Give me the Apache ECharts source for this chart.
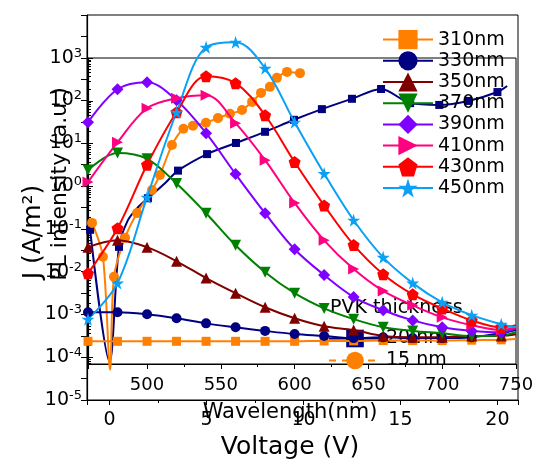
<!DOCTYPE html>
<html><head><meta charset="utf-8">
<script src="https://cdn.jsdelivr.net/npm/echarts@6/dist/echarts.min.js"></script>
<style>html,body{margin:0;padding:0;background:#fff}#c{width:537px;height:466px}</style>
</head><body><div id="c"></div>
<script>
// ---------- Chart A : J-V (PVK thickness) ----------
const voltage20 = [-1.0, 0.0, 0.49, 0.95, 1.47, 1.98, 2.86, 3.53, 5.03, 6.52, 8.02, 9.51, 10.95, 12.5, 14.0, 15.5, 17.0, 18.5, 20.0, 20.5];
const current20 = [0.095, 7.9e-5, 0.038, 0.16, 0.32, 0.52, 1.17, 2.3, 5.6, 10.2, 18.6, 35.5, 63, 110, 186, 87, 79, 98, 158, 219];
const voltage15 = [-0.9, -0.34, 0.03, 0.23, 0.8, 1.42, 2.19, 2.6, 3.22, 3.81, 4.3, 4.97, 5.59, 6.21, 6.83, 7.35, 7.81, 8.27, 8.63, 9.15, 9.82];
const current15 = [0.138, 0.0224, 5.1e-5, 0.0076, 0.062, 0.234, 0.81, 1.82, 9.1, 21.9, 25.7, 30.2, 38.9, 49, 60, 93, 151, 209, 339, 468, 437];
const thicknessNames = ['20 nm', '15 nm'];

// ---------- Chart B : PL spectra ----------
const wavelengths = [460, 480, 500, 520, 540, 560, 580, 600, 620, 640, 660, 680, 700, 720, 740, 750];
const excitationNames = ['310nm', '330nm', '350nm', '370nm', '390nm', '410nm', '430nm', '450nm'];
const pl310 = [2.4e-4, 2.4e-4, 2.4e-4, 2.4e-4, 2.4e-4, 2.4e-4, 2.4e-4, 2.4e-4, 2.45e-4, 2.45e-4, 2.5e-4, 2.5e-4, 2.5e-4, 2.55e-4, 2.6e-4, 2.7e-4];
const pl330 = [1.15e-3, 1.15e-3, 1.03e-3, 8.3e-4, 6.3e-4, 5.1e-4, 4.2e-4, 3.55e-4, 3.2e-4, 2.85e-4, 3.0e-4, 2.85e-4, 2.85e-4, 3.0e-4, 3.7e-4, 4.4e-4];
const pl350 = [0.038, 0.055, 0.038, 0.0178, 0.0072, 0.0032, 0.0015, 8.3e-4, 5.4e-4, 4.4e-4, 3.2e-4, 3.0e-4, 3.0e-4, 3.2e-4, 3.2e-4, 3.5e-4];
const pl370 = [2.4, 6.0, 4.4, 1.17, 0.236, 0.042, 0.0099, 0.0032, 0.00141, 7.9e-4, 5.1e-4, 4.2e-4, 3.7e-4, 3.2e-4, 3.3e-4, 3.9e-4];
const pl390 = [31.6, 186, 271, 103, 17.5, 1.94, 0.236, 0.034, 0.0085, 0.0026, 0.00128, 7.4e-4, 5.1e-4, 4.2e-4, 3.9e-4, 4.9e-4];
const pl410 = [1.26, 10.7, 67, 115, 135, 30, 4.1, 0.41, 0.055, 0.0117, 0.0036, 0.00166, 8.7e-4, 5.7e-4, 4.4e-4, 5.1e-4];
const pl430 = [0.0093, 0.105, 3.2, 54, 375, 258, 46, 3.7, 0.36, 0.043, 0.0089, 0.0030, 0.00141, 7.4e-4, 5.1e-4, 5.7e-4];
const pl450 = [7.9e-4, 0.0055, 0.56, 54, 1780, 2340, 575, 31.6, 2.0, 0.162, 0.022, 0.0055, 0.00195, 9.8e-4, 6.0e-4, 5.1e-4];

const FONT = 'DejaVu Sans';
const STAR = 'path://M50,0 L61,35 L98,35 L68,57 L79,91 L50,70 L21,91 L32,57 L2,35 L39,35 Z';
const PENTA = 'path://M50,0 L98,36 L80,95 L20,95 L2,36 Z';

function pairs(xs, ys, noMarker) {
  return xs.map((x, i) => noMarker.indexOf(i) >= 0 ? {value: [x, ys[i]], symbol: 'none'} : [x, ys[i]]);
}

const plSets = [pl310, pl330, pl350, pl370, pl390, pl410, pl430, pl450];
const plStyle = [
  {c: '#FF8000', s: 'rect', size: 9, r: 0},
  {c: '#000080', s: 'circle', size: 10, r: 0},
  {c: '#800000', s: 'triangle', size: 11, r: 0},
  {c: '#008000', s: 'triangle', size: 11, r: 180},
  {c: '#8000FF', s: 'diamond', size: 12, r: 0},
  {c: '#FF0080', s: 'triangle', size: 11, r: -90},
  {c: '#FF0000', s: PENTA, size: 12, r: 0},
  {c: '#0AA0F5', s: STAR, size: 13, r: 0}
];
const lastIdx = wavelengths.length - 1;

const series = [];
series.push({
  name: thicknessNames[0], type: 'line', xAxisIndex: 0, yAxisIndex: 0, z: 2,
  data: pairs(voltage20, current20, [1, 3, 4, 6, voltage20.length - 1]),
  smooth: 0.3, symbol: 'rect', symbolSize: 8, showAllSymbol: true,
  lineStyle: {color: '#000080', width: 2}, itemStyle: {color: '#000080'}
});
series.push({
  name: thicknessNames[1], type: 'line', xAxisIndex: 0, yAxisIndex: 0, z: 2,
  data: pairs(voltage15, current15, [2]),
  smooth: 0.3, symbol: 'circle', symbolSize: 10, showAllSymbol: true,
  lineStyle: {color: '#FF8000', width: 2}, itemStyle: {color: '#FF8000'}
});
plSets.forEach((vals, k) => {
  const st = plStyle[k];
  series.push({
    name: excitationNames[k], type: 'line', xAxisIndex: 1, yAxisIndex: 1, z: 3,
    data: pairs(wavelengths, vals, [lastIdx]),
    smooth: 0.35, symbol: st.s, symbolSize: st.size, symbolRotate: st.r, showAllSymbol: true,
    clip: false,
    lineStyle: {color: st.c, width: 2}, itemStyle: {color: st.c}
  });
});

const axisCol = '#000';
const option = {
  animation: false,
  backgroundColor: '#fff',
  textStyle: {fontFamily: FONT},
  grid: [
    {left: 87, top: 15, right: 19, bottom: 66, show: true, borderColor: '#000', borderWidth: 1, backgroundColor: 'transparent'},
    {left: 88, top: 58, right: 21, bottom: 102, show: true, borderColor: '#000', borderWidth: 1, backgroundColor: 'transparent'}
  ],
  xAxis: [
    {type: 'value', gridIndex: 0, position: 'bottom', min: -1.16, max: 21.06, splitNumber: 5,
     axisLine: {onZero: false, lineStyle: {color: axisCol, width: 1.2}},
     axisTick: {inside: false, length: 5, lineStyle: {color: axisCol}},
     minorTick: {show: true, splitNumber: 2, length: 3, lineStyle: {color: axisCol}},
     splitLine: {show: false},
     axisLabel: {color: '#000', fontSize: 19, fontFamily: FONT, margin: 11,
       formatter: v => (Math.abs(v / 5 - Math.round(v / 5)) < 1e-6 ? String(Math.round(v)) : '')}},
    {type: 'value', gridIndex: 1, position: 'bottom', min: 460, max: 750, splitNumber: 5,
     axisLine: {onZero: false, lineStyle: {color: axisCol, width: 1.2}},
     axisTick: {inside: false, length: 5, lineStyle: {color: axisCol}},
     minorTick: {show: true, splitNumber: 2, length: 3, lineStyle: {color: axisCol}},
     splitLine: {show: false},
     axisLabel: {color: '#000', fontSize: 18, fontFamily: FONT, margin: 12,
       formatter: v => (v % 50 === 0 ? String(v) : '')}}
  ],
  yAxis: [
    {type: 'log', gridIndex: 0, position: 'left', logBase: 10, min: 1e-5, max: 1e4,
     axisLine: {show: true, onZero: false, lineStyle: {color: axisCol, width: 1.2}},
     axisTick: {show: false}, minorTick: {show: false}, splitLine: {show: false},
     axisLabel: {margin: 5, color: '#000',
       formatter: v => { const e = Math.round(Math.log10(v)); return e >= 4 ? '' : '{b|10}{s|' + e + '}'; },
       rich: {b: {fontSize: 19, fontFamily: FONT, color: '#000', lineHeight: 22},
              s: {fontSize: 13, fontFamily: FONT, color: '#000', verticalAlign: 'top', lineHeight: 12}}}},
    {type: 'log', gridIndex: 1, position: 'left', logBase: 10, min: 7.08e-5, max: 1000,
     axisLine: {show: true, onZero: false, lineStyle: {color: axisCol, width: 1.2}},
     axisTick: {inside: true, length: 5, lineStyle: {color: axisCol}},
     minorTick: {show: true, splitNumber: 10, length: 3, lineStyle: {color: axisCol}},
     splitLine: {show: false}, axisLabel: {show: false}},
    {type: 'value', gridIndex: 0, position: 'left', offset: 0, min: -5, max: 4, interval: 0.5,
     axisLine: {show: false, onZero: false}, axisLabel: {show: false}, splitLine: {show: false},
     axisTick: {show: true, inside: false, length: 6, lineStyle: {color: axisCol}}}
  ],
  legend: [
    {data: excitationNames, orient: 'vertical', left: 377, top: 25, itemWidth: 50, itemHeight: 24, itemGap: 2,
     textStyle: {fontSize: 19, fontFamily: FONT, color: '#000'}, z: 10, selectedMode: false},
    {data: [{name: thicknessNames[0]}, {name: thicknessNames[1], lineStyle: {type: [7, 6]}}],
     orient: 'vertical', left: 323, top: 324, itemWidth: 52, itemHeight: 22, itemGap: 3,
     textStyle: {fontSize: 19, fontFamily: FONT, color: '#000'}, z: 1, selectedMode: false}
  ],
  graphic: [
    {type: 'text', x: 330, y: 308, z: 1,
     style: {text: 'PVK thickness', fontSize: 19, fontFamily: FONT, fill: '#000', align: 'left', verticalAlign: 'middle', textAlign: 'left', textVerticalAlign: 'middle'}},
    {type: 'text', x: 33, y: 232, rotation: Math.PI / 2,
     style: {text: 'J (A/m²)', fontSize: 25, fontFamily: FONT, fill: '#000', align: 'center', verticalAlign: 'middle', textAlign: 'center', textVerticalAlign: 'middle'}},
    {type: 'text', x: 60, y: 184, rotation: Math.PI / 2,
     style: {text: 'PL intensity (a.u.)', fontSize: 22, fontFamily: FONT, fill: '#000', align: 'center', verticalAlign: 'middle', textAlign: 'center', textVerticalAlign: 'middle'}},
    {type: 'text', x: 290, y: 413,
     style: {text: 'Wavelength(nm)', fontSize: 21, fontFamily: FONT, fill: '#000', align: 'center', verticalAlign: 'middle', textAlign: 'center', textVerticalAlign: 'middle'}},
    {type: 'text', x: 290, y: 447,
     style: {text: 'Voltage (V)', fontSize: 25, fontFamily: FONT, fill: '#000', align: 'center', verticalAlign: 'middle', textAlign: 'center', textVerticalAlign: 'middle'}}
  ],
  series: series
};
const chart = echarts.init(document.getElementById('c'), null, {renderer: 'canvas'});
chart.setOption(option);
</script></body></html>
